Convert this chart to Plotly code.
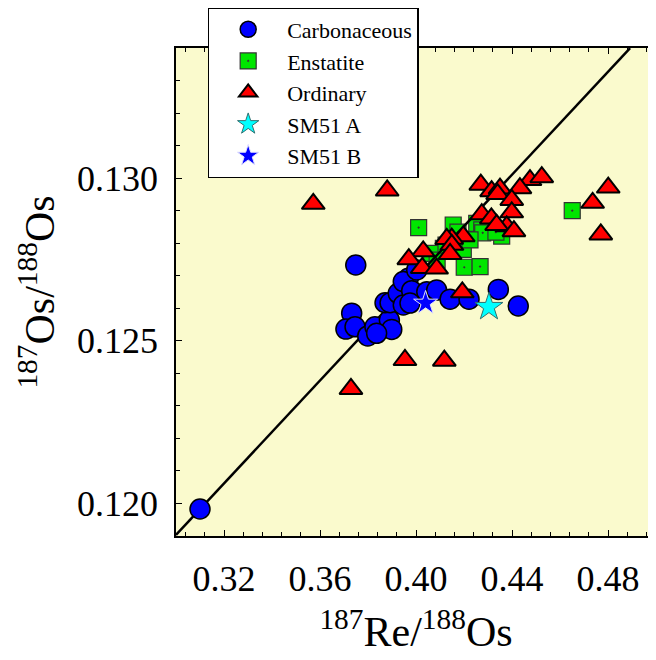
import plotly.graph_objects as go

# ---- data ----
carb_x = [0.3100, 0.3749, 0.3732, 0.3708, 0.3746, 0.3799, 0.3829, 0.3889, 0.3899, 0.3871,
          0.3892, 0.3926, 0.3947, 0.3968, 0.3947, 0.3982, 0.4003, 0.4045, 0.4086, 0.4142,
          0.4221, 0.4343, 0.4426, 0.3836, 0.3975]
carb_y = [0.11983, 0.12733, 0.12585, 0.12536, 0.12543, 0.12515, 0.12543, 0.12564, 0.12535, 0.12617,
          0.12617, 0.12646, 0.12610, 0.12692, 0.12682, 0.12654, 0.12718, 0.12651, 0.12656, 0.12628,
          0.12628, 0.12658, 0.12607, 0.12523, 0.12616]

enst_x = [0.4011, 0.4155, 0.4175, 0.4253, 0.4274, 0.4278, 0.4357, 0.4333, 0.4197, 0.4114,
          0.4065, 0.4088, 0.4201, 0.4267, 0.4651, 0.4125, 0.4225]
enst_y = [0.12848, 0.12856, 0.12834, 0.12861, 0.12841, 0.12832, 0.12822, 0.12834, 0.12781, 0.12784,
          0.12769, 0.12748, 0.12726, 0.12728, 0.12900, 0.12794, 0.12810]

ord_x = [0.3572, 0.3880, 0.4270, 0.4475, 0.4524, 0.4315, 0.4350, 0.4340, 0.4433, 0.4399,
         0.4274, 0.4314, 0.4399, 0.4378, 0.4336, 0.4408, 0.4197, 0.4149, 0.4128, 0.4149,
         0.4142, 0.4030, 0.3970, 0.4026, 0.4086, 0.4193, 0.3954, 0.4118, 0.3729, 0.4801,
         0.4736, 0.4770]
ord_y = [0.12921, 0.12962, 0.12980, 0.12994, 0.13003, 0.12960, 0.12968, 0.12951, 0.12969, 0.12933,
         0.12889, 0.12876, 0.12895, 0.12852, 0.12856, 0.12837, 0.12821, 0.12814, 0.12813, 0.12795,
         0.12767, 0.12775, 0.12751, 0.12724, 0.12722, 0.12649, 0.12441, 0.12439, 0.12352, 0.12971,
         0.12924, 0.12827]

sm51a_x = [0.4304]
sm51a_y = [0.12604]
sm51b_x = [0.4040]
sm51b_y = [0.12616]

# 4.558 Ga reference isochron
iso_intercept = 0.09531
iso_slope = 0.07908
iso_x = [0.30, 0.4892]
iso_y = [iso_intercept + iso_slope * v for v in iso_x]

x_ticks = [0.32, 0.36, 0.40, 0.44, 0.48]
x_ticklabels = ["0.32", "0.36", "0.40", "0.44", "0.48"]
y_ticks = [0.120, 0.125, 0.130]
y_ticklabels = ["0.120", "0.125", "0.130"]

FONT = "Liberation Serif, Times New Roman, serif"

fig = go.Figure()

fig.add_trace(go.Scatter(
    x=enst_x, y=enst_y, mode="markers", name="Enstatite", legendrank=2,
    marker=dict(symbol="square-dot", size=16, color="#00E600",
                line=dict(color="#333333", width=1.2))))

fig.add_trace(go.Scatter(
    x=iso_x, y=iso_y, mode="lines", showlegend=False,
    line=dict(color="black", width=2.5)))

fig.add_trace(go.Scatter(
    x=carb_x, y=carb_y, mode="markers", name="Carbonaceous", legendrank=1,
    marker=dict(symbol="circle", size=20, color="#0000FF",
                line=dict(color="black", width=1.5))))

fig.add_trace(go.Scatter(
    x=ord_x, y=ord_y, mode="markers", name="Ordinary", legendrank=3,
    marker=dict(symbol="triangle-up", size=20, color="#FF0000",
                line=dict(color="black", width=2))))

fig.add_trace(go.Scatter(
    x=sm51a_x, y=sm51a_y, mode="markers", name="SM51 A", legendrank=4,
    marker=dict(symbol="star", size=21, color="#00FFFF",
                line=dict(color="#2F6F6F", width=1))))

fig.add_trace(go.Scatter(
    x=sm51b_x, y=sm51b_y, mode="markers", name="SM51 B", legendrank=5,
    marker=dict(symbol="star", size=18, color="#0000FF",
                line=dict(color="#E0E0FF", width=1))))

axis_common = dict(
    showline=True, linecolor="black", linewidth=1.5, mirror="ticks",
    ticks="inside", tickcolor="black", tickwidth=1.2, ticklen=6,
    showgrid=False, zeroline=False,
    tickfont=dict(family=FONT, size=36, color="black"),
)

fig.update_xaxes(
    range=[0.30, 0.50], tickvals=x_ticks, ticktext=x_ticklabels,
    minor=dict(dtick=0.008, tick0=0.32, ticks="inside", ticklen=4, tickcolor="black", tickwidth=1.2),
    title=dict(text="<sup>187</sup>Re/<sup>188</sup>Os",
               font=dict(family=FONT, size=42, color="black"), standoff=19),
    ticklabelstandoff=10,
    **axis_common)

fig.update_yaxes(
    range=[0.119, 0.134], tickvals=y_ticks, ticktext=y_ticklabels,
    minor=dict(dtick=0.001, tick0=0.119, ticks="inside", ticklen=4, tickcolor="black", tickwidth=1.2),
    title=dict(text="<sup>187</sup>Os/<sup>188</sup>Os",
               font=dict(family=FONT, size=42, color="black"), standoff=9),
    ticklabelstandoff=9,
    **axis_common)

# the page body adds an 8px offset, so the figure is sized/placed to compensate
fig.update_layout(
    width=648, height=652,
    margin=dict(l=168, r=0, t=40, b=124, autoexpand=False),
    paper_bgcolor="white", plot_bgcolor="#FAFACD",
    showlegend=True,
    legend=dict(
        x=0.066, y=1.084, xanchor="left", yanchor="top",
        bgcolor="white", bordercolor="black", borderwidth=1.5,
        font=dict(family=FONT, size=22, color="black"),
        itemwidth=68, tracegroupgap=0,
    ),
)

fig.write_html("out.html")
